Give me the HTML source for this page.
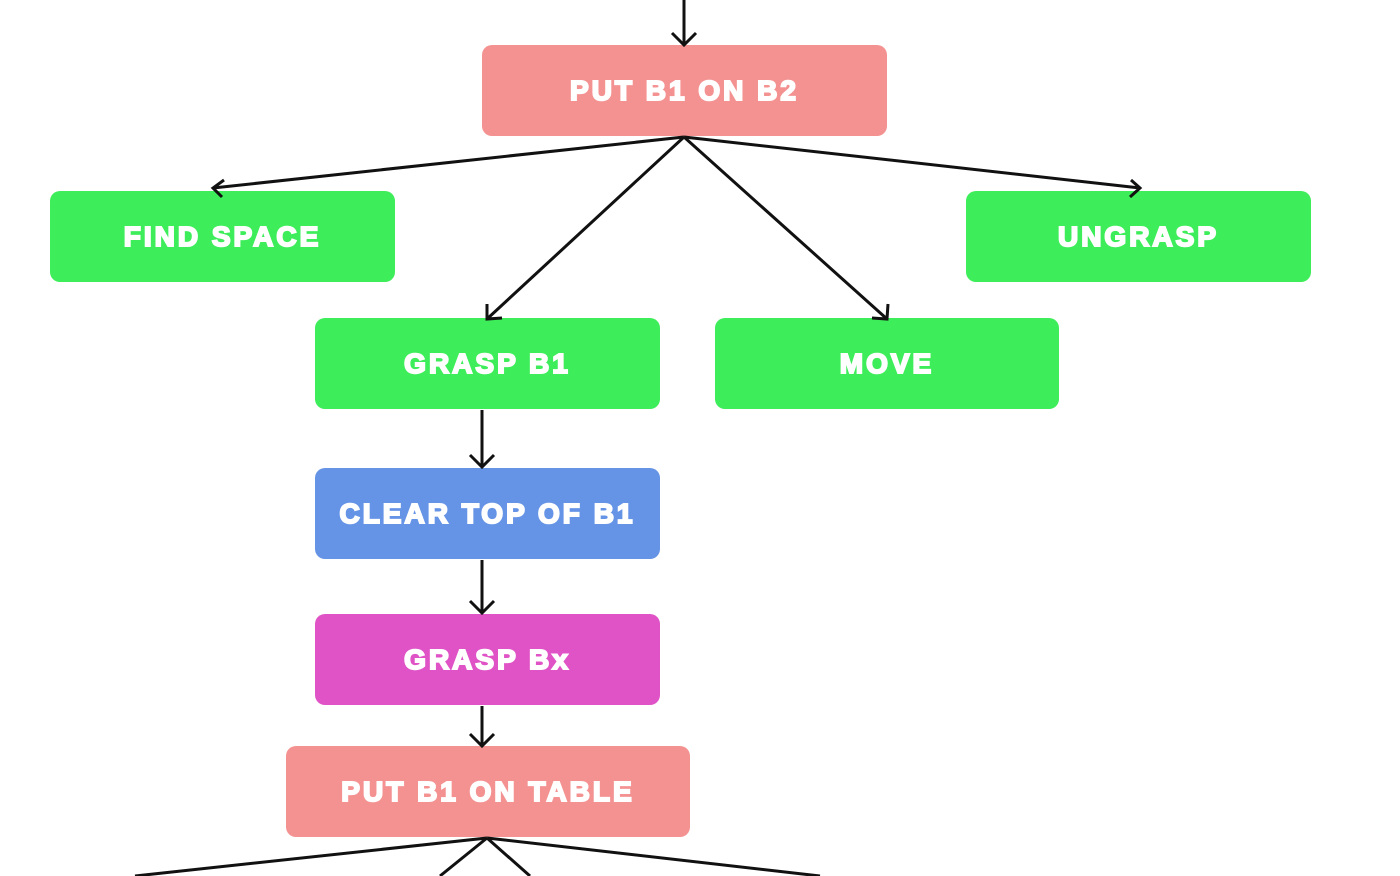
<!DOCTYPE html>
<html><head><style>
body{margin:0;width:1400px;height:876px;background:#fff;position:relative;overflow:hidden;font-family:"Liberation Sans",sans-serif}
.b{position:absolute;border-radius:10px;color:#fff;font-weight:bold;font-size:28px;letter-spacing:3px;display:flex;align-items:center;justify-content:center;-webkit-text-stroke:2px #fff}
svg{position:absolute;left:0;top:0}
</style></head><body>
<div class="b" style="left:482px;top:45px;width:405px;height:91px;background:#f39291">PUT B1 ON B2</div>
<div class="b" style="left:50px;top:191px;width:345px;height:91px;background:#3ded5a">FIND SPACE</div>
<div class="b" style="left:966px;top:191px;width:345px;height:91px;background:#3ded5a">UNGRASP</div>
<div class="b" style="left:315px;top:318px;width:345px;height:91px;background:#3ded5a">GRASP B1</div>
<div class="b" style="left:715px;top:318px;width:344px;height:91px;background:#3ded5a">MOVE</div>
<div class="b" style="left:315px;top:468px;width:345px;height:91px;background:#6593e6">CLEAR TOP OF B1</div>
<div class="b" style="left:315px;top:614px;width:345px;height:91px;background:#e053c6">GRASP Bx</div>
<div class="b" style="left:286px;top:746px;width:404px;height:91px;background:#f39291">PUT B1 ON TABLE</div>
<svg width="1400" height="876" fill="none" stroke="#111" stroke-width="3">
<path d="M684 0V45M672 33L684 45L696 33"/>
<path d="M684 137L213 188M224 180L213 188L222 197"/>
<path d="M684 137L1140 188M1131 180L1140 188L1130 197"/>
<path d="M684 137L487 319M487 304L487 319L502 318"/>
<path d="M684 137L887 319M872 318L887 319L888 304"/>
<path d="M482 410V467M470 455L482 467L494 455"/>
<path d="M482 560V613M470 601L482 613L494 601"/>
<path d="M482 706V746M470 734L482 746L494 734"/>
<path d="M487 838L135 876M487 838L440 876M487 838L530 876M487 838L820 876"/>
</svg>
</body></html>
